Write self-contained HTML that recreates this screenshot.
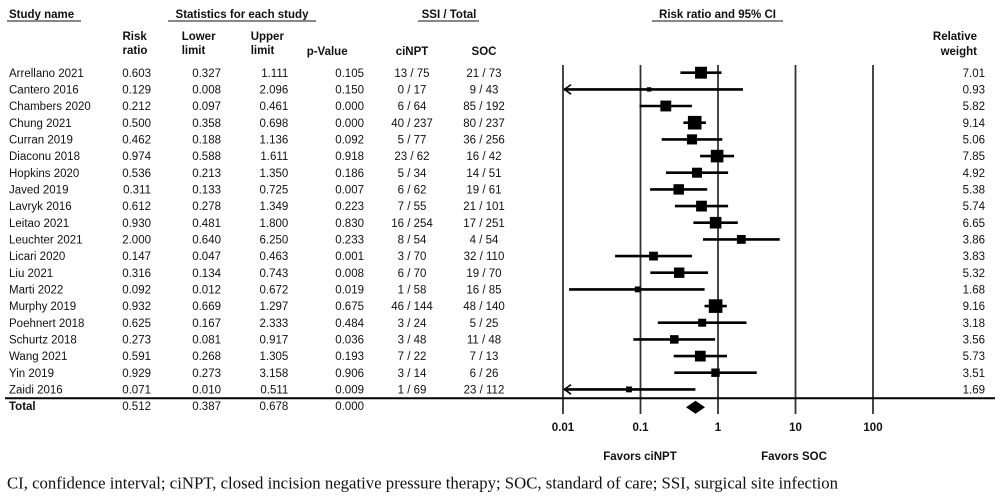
<!DOCTYPE html>
<html><head><meta charset="utf-8"><style>
html,body{margin:0;padding:0;background:#fff;}
svg{display:block;}
.t{font-family:"Liberation Sans",Arial,sans-serif;font-size:11.5px;fill:#111;}
.b{font-weight:bold;}
.e{text-anchor:end;}
.m{text-anchor:middle;}
.f{font-family:"Liberation Serif","Times New Roman",serif;font-size:16.6px;fill:#111;}
</style></head><body>
<svg width="1000" height="499" viewBox="0 0 1000 499" xmlns="http://www.w3.org/2000/svg">
<!-- header row 1 -->
<text class="t b" x="9" y="18">Study name</text>
<line x1="7" y1="21" x2="81" y2="21" stroke="#888" stroke-width="2"/>
<text class="t b m" x="242" y="18">Statistics for each study</text>
<line x1="168" y1="21" x2="316" y2="21" stroke="#888" stroke-width="2"/>
<text class="t b m" x="449" y="18">SSI / Total</text>
<line x1="418" y1="21" x2="479" y2="21" stroke="#888" stroke-width="2"/>
<text class="t b m" x="717.5" y="18">Risk ratio and 95% CI</text>
<line x1="652" y1="21" x2="783" y2="21" stroke="#888" stroke-width="2"/>
<!-- header row 2 -->
<text class="t b" x="122.5" y="40">Risk</text>
<text class="t b" x="122.5" y="54">ratio</text>
<text class="t b" x="181.7" y="40">Lower</text>
<text class="t b" x="181.7" y="54">limit</text>
<text class="t b" x="250.7" y="40">Upper</text>
<text class="t b" x="250.7" y="54">limit</text>
<text class="t b" x="306.7" y="55">p-Value</text>
<text class="t b m" x="412" y="55">ciNPT</text>
<text class="t b m" x="484" y="55">SOC</text>
<text class="t b e" x="977" y="40">Relative</text>
<text class="t b e" x="977" y="55">weight</text>

<!-- grid lines -->
<g stroke="#333" stroke-width="1.8">
<line x1="563" y1="65" x2="563" y2="414"/>
<line x1="640.5" y1="65" x2="640.5" y2="414"/>
<line x1="718" y1="65" x2="718" y2="414"/>
<line x1="795.5" y1="65" x2="795.5" y2="414"/>
<line x1="873" y1="65" x2="873" y2="414"/>
</g>
<line x1="5" y1="398.3" x2="995" y2="398.3" stroke="#000" stroke-width="2"/>

<!-- rows text -->
<g class="t">
<text x="9" y="76.8">Arrellano 2021</text>
<text x="9" y="93.5">Cantero 2016</text>
<text x="9" y="110.1">Chambers 2020</text>
<text x="9" y="126.8">Chung 2021</text>
<text x="9" y="143.5">Curran 2019</text>
<text x="9" y="160.2">Diaconu 2018</text>
<text x="9" y="176.8">Hopkins 2020</text>
<text x="9" y="193.5">Javed 2019</text>
<text x="9" y="210.2">Lavryk 2016</text>
<text x="9" y="226.8">Leitao 2021</text>
<text x="9" y="243.5">Leuchter 2021</text>
<text x="9" y="260.2">Licari 2020</text>
<text x="9" y="276.8">Liu 2021</text>
<text x="9" y="293.5">Marti 2022</text>
<text x="9" y="310.2">Murphy 2019</text>
<text x="9" y="326.8">Poehnert 2018</text>
<text x="9" y="343.5">Schurtz 2018</text>
<text x="9" y="360.2">Wang 2021</text>
<text x="9" y="376.8">Yin 2019</text>
<text x="9" y="393.5">Zaidi 2016</text>
</g>
<g class="t e">
<!-- risk ratio -->
<text x="151" y="76.8">0.603</text><text x="151" y="93.5">0.129</text><text x="151" y="110.1">0.212</text><text x="151" y="126.8">0.500</text><text x="151" y="143.5">0.462</text><text x="151" y="160.2">0.974</text><text x="151" y="176.8">0.536</text><text x="151" y="193.5">0.311</text><text x="151" y="210.2">0.612</text><text x="151" y="226.8">0.930</text><text x="151" y="243.5">2.000</text><text x="151" y="260.2">0.147</text><text x="151" y="276.8">0.316</text><text x="151" y="293.5">0.092</text><text x="151" y="310.2">0.932</text><text x="151" y="326.8">0.625</text><text x="151" y="343.5">0.273</text><text x="151" y="360.2">0.591</text><text x="151" y="376.8">0.929</text><text x="151" y="393.5">0.071</text>
<!-- lower -->
<text x="221" y="76.8">0.327</text><text x="221" y="93.5">0.008</text><text x="221" y="110.1">0.097</text><text x="221" y="126.8">0.358</text><text x="221" y="143.5">0.188</text><text x="221" y="160.2">0.588</text><text x="221" y="176.8">0.213</text><text x="221" y="193.5">0.133</text><text x="221" y="210.2">0.278</text><text x="221" y="226.8">0.481</text><text x="221" y="243.5">0.640</text><text x="221" y="260.2">0.047</text><text x="221" y="276.8">0.134</text><text x="221" y="293.5">0.012</text><text x="221" y="310.2">0.669</text><text x="221" y="326.8">0.167</text><text x="221" y="343.5">0.081</text><text x="221" y="360.2">0.268</text><text x="221" y="376.8">0.273</text><text x="221" y="393.5">0.010</text>
<!-- upper -->
<text x="288.3" y="76.8">1.111</text><text x="288.3" y="93.5">2.096</text><text x="288.3" y="110.1">0.461</text><text x="288.3" y="126.8">0.698</text><text x="288.3" y="143.5">1.136</text><text x="288.3" y="160.2">1.611</text><text x="288.3" y="176.8">1.350</text><text x="288.3" y="193.5">0.725</text><text x="288.3" y="210.2">1.349</text><text x="288.3" y="226.8">1.800</text><text x="288.3" y="243.5">6.250</text><text x="288.3" y="260.2">0.463</text><text x="288.3" y="276.8">0.743</text><text x="288.3" y="293.5">0.672</text><text x="288.3" y="310.2">1.297</text><text x="288.3" y="326.8">2.333</text><text x="288.3" y="343.5">0.917</text><text x="288.3" y="360.2">1.305</text><text x="288.3" y="376.8">3.158</text><text x="288.3" y="393.5">0.511</text>
<!-- p -->
<text x="364" y="76.8">0.105</text><text x="364" y="93.5">0.150</text><text x="364" y="110.1">0.000</text><text x="364" y="126.8">0.000</text><text x="364" y="143.5">0.092</text><text x="364" y="160.2">0.918</text><text x="364" y="176.8">0.186</text><text x="364" y="193.5">0.007</text><text x="364" y="210.2">0.223</text><text x="364" y="226.8">0.830</text><text x="364" y="243.5">0.233</text><text x="364" y="260.2">0.001</text><text x="364" y="276.8">0.008</text><text x="364" y="293.5">0.019</text><text x="364" y="310.2">0.675</text><text x="364" y="326.8">0.484</text><text x="364" y="343.5">0.036</text><text x="364" y="360.2">0.193</text><text x="364" y="376.8">0.906</text><text x="364" y="393.5">0.009</text>
<!-- weights -->
<text x="985" y="76.8">7.01</text><text x="985" y="93.5">0.93</text><text x="985" y="110.1">5.82</text><text x="985" y="126.8">9.14</text><text x="985" y="143.5">5.06</text><text x="985" y="160.2">7.85</text><text x="985" y="176.8">4.92</text><text x="985" y="193.5">5.38</text><text x="985" y="210.2">5.74</text><text x="985" y="226.8">6.65</text><text x="985" y="243.5">3.86</text><text x="985" y="260.2">3.83</text><text x="985" y="276.8">5.32</text><text x="985" y="293.5">1.68</text><text x="985" y="310.2">9.16</text><text x="985" y="326.8">3.18</text><text x="985" y="343.5">3.56</text><text x="985" y="360.2">5.73</text><text x="985" y="376.8">3.51</text><text x="985" y="393.5">1.69</text>
</g>
<g class="t m">
<text x="412" y="76.8">13 / 75</text><text x="412" y="93.5">0 / 17</text><text x="412" y="110.1">6 / 64</text><text x="412" y="126.8">40 / 237</text><text x="412" y="143.5">5 / 77</text><text x="412" y="160.2">23 / 62</text><text x="412" y="176.8">5 / 34</text><text x="412" y="193.5">6 / 62</text><text x="412" y="210.2">7 / 55</text><text x="412" y="226.8">16 / 254</text><text x="412" y="243.5">8 / 54</text><text x="412" y="260.2">3 / 70</text><text x="412" y="276.8">6 / 70</text><text x="412" y="293.5">1 / 58</text><text x="412" y="310.2">46 / 144</text><text x="412" y="326.8">3 / 24</text><text x="412" y="343.5">3 / 48</text><text x="412" y="360.2">7 / 22</text><text x="412" y="376.8">3 / 14</text><text x="412" y="393.5">1 / 69</text>
<text x="484" y="76.8">21 / 73</text><text x="484" y="93.5">9 / 43</text><text x="484" y="110.1">85 / 192</text><text x="484" y="126.8">80 / 237</text><text x="484" y="143.5">36 / 256</text><text x="484" y="160.2">16 / 42</text><text x="484" y="176.8">14 / 51</text><text x="484" y="193.5">19 / 61</text><text x="484" y="210.2">21 / 101</text><text x="484" y="226.8">17 / 251</text><text x="484" y="243.5">4 / 54</text><text x="484" y="260.2">32 / 110</text><text x="484" y="276.8">19 / 70</text><text x="484" y="293.5">16 / 85</text><text x="484" y="310.2">48 / 140</text><text x="484" y="326.8">5 / 25</text><text x="484" y="343.5">11 / 48</text><text x="484" y="360.2">7 / 13</text><text x="484" y="376.8">6 / 26</text><text x="484" y="393.5">23 / 112</text>
</g>

<!-- total row -->
<text class="t b" x="9" y="410">Total</text>
<g class="t e">
<text x="151" y="410">0.512</text><text x="221" y="410">0.387</text><text x="288.3" y="410">0.678</text><text x="364" y="410">0.000</text>
</g>

<!-- CI lines -->
<g stroke="#000" stroke-width="2.6">
<line x1="680.4" y1="72.7" x2="721.5" y2="72.7"/>
<line x1="564" y1="89.4" x2="742.9" y2="89.4"/>
<line x1="639.5" y1="106" x2="691.9" y2="106"/>
<line x1="683.4" y1="122.7" x2="705.9" y2="122.7"/>
<line x1="661.7" y1="139.4" x2="722.3" y2="139.4"/>
<line x1="700.1" y1="156.1" x2="734.1" y2="156.1"/>
<line x1="666" y1="172.7" x2="728.1" y2="172.7"/>
<line x1="650.1" y1="189.4" x2="707.2" y2="189.4"/>
<line x1="674.9" y1="206.1" x2="728.1" y2="206.1"/>
<line x1="693.4" y1="222.7" x2="737.8" y2="222.7"/>
<line x1="703" y1="239.4" x2="779.7" y2="239.4"/>
<line x1="615.1" y1="256.1" x2="692.1" y2="256.1"/>
<line x1="650.3" y1="272.7" x2="708" y2="272.7"/>
<line x1="569.1" y1="289.4" x2="704.6" y2="289.4"/>
<line x1="704.5" y1="306.1" x2="726.8" y2="306.1"/>
<line x1="657.8" y1="322.7" x2="746.5" y2="322.7"/>
<line x1="633.4" y1="339.4" x2="715.1" y2="339.4"/>
<line x1="673.7" y1="356.1" x2="727" y2="356.1"/>
<line x1="674.3" y1="372.7" x2="756.7" y2="372.7"/>
<line x1="564" y1="389.4" x2="695.4" y2="389.4"/>
</g>
<!-- arrows -->
<g stroke="#000" stroke-width="1.6" fill="none">
<polyline points="571,84.6 564.5,89.4 571,94.2"/>
<polyline points="571,384.6 564.5,389.4 571,394.2"/>
</g>
<!-- squares -->
<g fill="#000">
<rect x="695.05" y="66.75" width="11.9" height="11.9"/>
<rect x="646.93" y="87.23" width="4.34" height="4.34"/>
<rect x="660.37" y="100.57" width="10.86" height="10.86"/>
<rect x="687.9" y="115.9" width="13.6" height="13.6"/>
<rect x="686.94" y="134.34" width="10.12" height="10.12"/>
<rect x="710.8" y="149.8" width="12.6" height="12.6"/>
<rect x="692.01" y="167.71" width="9.98" height="9.98"/>
<rect x="673.48" y="184.18" width="10.44" height="10.44"/>
<rect x="696.11" y="200.71" width="10.78" height="10.78"/>
<rect x="709.8" y="216.9" width="11.6" height="11.6"/>
<rect x="736.88" y="234.98" width="8.84" height="8.84"/>
<rect x="649.1" y="251.7" width="8.8" height="8.8"/>
<rect x="674.01" y="267.51" width="10.38" height="10.38"/>
<rect x="634.79" y="286.49" width="5.83" height="5.83"/>
<rect x="708.8" y="299.3" width="13.6" height="13.6"/>
<rect x="698.2" y="318.7" width="8" height="8"/>
<rect x="670.05" y="335.15" width="8.5" height="8.5"/>
<rect x="694.92" y="350.72" width="10.77" height="10.77"/>
<rect x="711.29" y="368.49" width="8.43" height="8.43"/>
<rect x="626.08" y="386.48" width="5.85" height="5.85"/>
</g>
<!-- diamond -->
<polygon points="686,407.3 695.5,400.8 705,407.3 695.5,413.8" fill="#000"/>

<!-- axis labels -->
<g class="t b m">
<text x="563" y="431">0.01</text>
<text x="640.5" y="431">0.1</text>
<text x="718" y="431">1</text>
<text x="795.5" y="431">10</text>
<text x="873" y="431">100</text>
<text x="640" y="460">Favors ciNPT</text>
<text x="794" y="460">Favors SOC</text>
</g>

<text class="f" x="7" y="488.5" textLength="831" lengthAdjust="spacingAndGlyphs">CI, confidence interval; ciNPT, closed incision negative pressure therapy; SOC, standard of care; SSI, surgical site infection</text>
</svg>
</body></html>
